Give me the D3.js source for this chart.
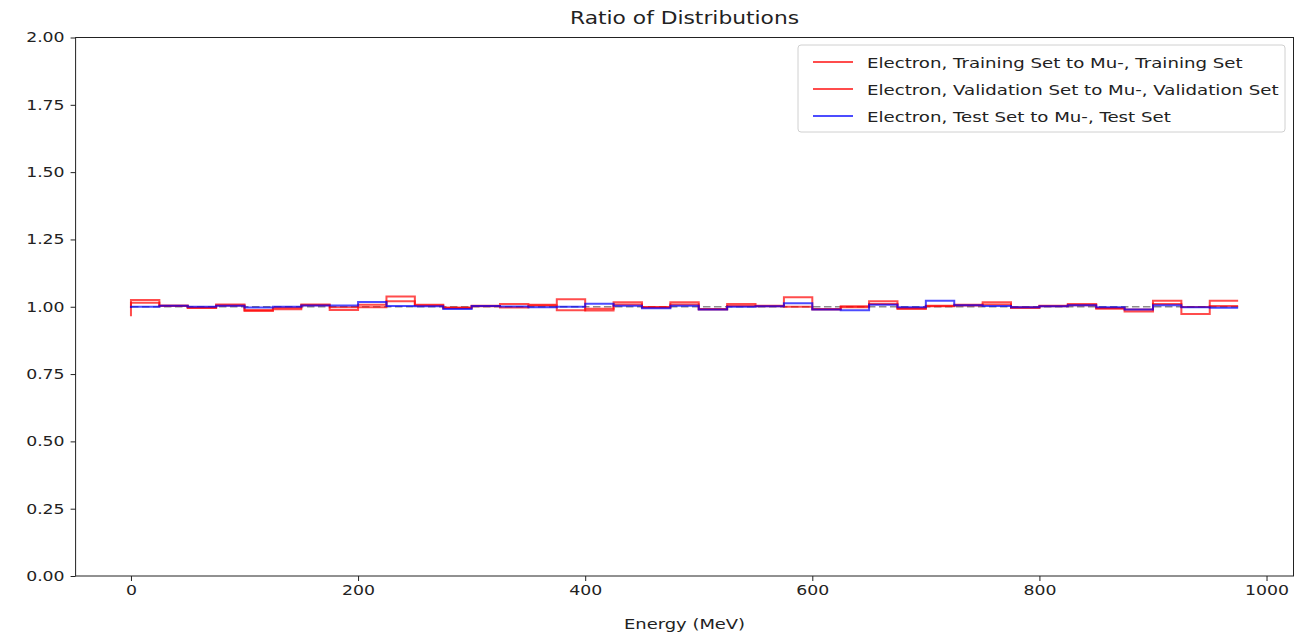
<!DOCTYPE html>
<meta charset="utf-8">
<script src="https://d3js.org/d3.v7.min.js"></script>
<style>
  body { margin: 0; background: #fff; }
  text { font-family: "DejaVu Sans", sans-serif; fill: #222; }
</style>
<div id="chart"></div>
<script>

// Bin edges (MeV), one per point, step drawn "pre" like matplotlib
var energy = d3.range(0, 1000, 25);

var trainRatio = [0.965, 1.025, 1.005, 0.995, 1.008, 0.984, 0.991, 1.008, 0.988, 0.998,
                  1.038, 1.007, 0.997, 1.004, 1.010, 1.007, 1.028, 0.986, 1.017, 0.997,
                  1.017, 0.990, 1.010, 1.002, 1.035, 0.990, 0.998, 1.020, 0.992, 1.002,
                  1.007, 1.017, 0.995, 1.002, 1.010, 0.995, 0.982, 1.022, 0.973, 1.022];
var valRatio   = [0.995, 1.015, 1.003, 0.997, 1.005, 0.988, 0.996, 1.006, 0.998, 1.007,
                  1.020, 1.005, 0.995, 1.002, 0.997, 1.005, 0.987, 0.993, 1.008, 0.999,
                  1.008, 0.992, 1.003, 1.004, 1.000, 0.992, 1.002, 1.010, 0.995, 1.004,
                  1.005, 1.008, 0.998, 1.004, 1.006, 0.993, 0.990, 1.010, 0.999, 1.003];
var testRatio  = [0.995, 1.000, 1.004, 1.000, 1.004, 0.997, 1.000, 1.005, 1.005, 1.018,
                  1.003, 1.002, 0.992, 1.003, 1.001, 0.998, 1.000, 1.011, 1.004, 0.994,
                  1.004, 0.990, 1.000, 1.002, 1.013, 0.990, 0.987, 1.007, 0.998, 1.022,
                  1.006, 1.003, 0.998, 1.002, 1.006, 0.998, 0.990, 1.006, 0.998, 0.996];
var refRatio = 1.0;

var seriesNames = ["Electron, Training Set to Mu-, Training Set",
                   "Electron, Validation Set to Mu-, Validation Set",
                   "Electron, Test Set to Mu-, Test Set"];
var seriesColors = ["rgba(255,0,0,0.7)", "rgba(255,0,0,0.7)", "rgba(0,0,255,0.7)"];
var seriesValues = [trainRatio, valRatio, testRatio];

var xTicks = [0, 200, 400, 600, 800, 1000];
var yTicks = [0, 0.25, 0.5, 0.75, 1.0, 1.25, 1.5, 1.75, 2.0];

var W = 1294, H = 634;
var m = {left: 75.6, right: 1293.5, top: 37.5, bottom: 576};
var stretch = 1.28;   // el texto original sale ensanchado

var svg = d3.select("#chart").append("svg")
    .attr("width", W)
    .attr("height", H);

var x = d3.scaleLinear().domain([-48.75, 1023.75]).range([m.left, m.right]);
var y = d3.scaleLinear().domain([0, 2]).range([m.bottom, m.top]);

// linea de referencia en 1 (solo en el rango de datos, por debajo)
svg.append("line")
    .attr("x1", x(energy[0])).attr("x2", x(energy[energy.length - 1]))
    .attr("y1", y(refRatio)).attr("y2", y(refRatio))
    .attr("stroke", "rgba(0,0,0,0.45)")
    .attr("stroke-width", 1.5)
    .attr("stroke-dasharray", "7.5,3.5");

// lineas
var line = d3.line()
    .x(function(d) { return x(d[0]); })
    .y(function(d) { return y(d[1]); })
    .curve(d3.curveStepBefore);

seriesValues.forEach(function(vals, k) {
  svg.append("path")
    .datum(energy.map(function(e, i) { return [e, vals[i]]; }))
    .attr("d", line)
    .attr("fill", "none")
    .attr("stroke", seriesColors[k])
    .attr("stroke-width", 2);
});

// ejes
var xAxis = svg.append("g")
    .attr("transform", "translate(0," + m.bottom + ")")
    .call(d3.axisBottom(x).tickValues(xTicks).tickSize(5).tickPadding(4).tickFormat(d3.format("d")));
var yAxis = svg.append("g")
    .attr("transform", "translate(" + m.left + ",0)")
    .call(d3.axisLeft(y).tickValues(yTicks).tickSize(5).tickPadding(6).tickFormat(d3.format(".2f")));
[xAxis, yAxis].forEach(function(a) {
  a.attr("font-size", null).attr("font-family", null);
  a.selectAll("text").style("font-size", "13.5px").attr("fill", "#222");
  a.selectAll("line").attr("stroke", "#222");
  a.select(".domain").remove();
});

// marco
svg.append("rect")
    .attr("x", m.left).attr("y", m.top)
    .attr("width", m.right - m.left).attr("height", m.bottom - m.top)
    .attr("fill", "none")
    .attr("stroke", "#222")
    .attr("stroke-width", 1);

// titulo y etiqueta
svg.append("text")
    .attr("x", (m.left + m.right) / 2).attr("y", 24)
    .attr("text-anchor", "middle")
    .style("font-size", "17px")
    .text("Ratio of Distributions");
svg.append("text")
    .attr("x", (m.left + m.right) / 2).attr("y", 629)
    .attr("text-anchor", "middle")
    .style("font-size", "14px")
    .text("Energy (MeV)");

// leyenda
var lg = svg.append("g");
lg.append("rect")
    .attr("x", 798).attr("y", 45)
    .attr("width", 487).attr("height", 87)
    .attr("rx", 3)
    .attr("fill", "rgba(255,255,255,0.8)")
    .attr("stroke", "#d0d0d0");
seriesNames.forEach(function(name, k) {
  var yy = 62 + k * 27;
  lg.append("line")
    .attr("x1", 813).attr("x2", 853)
    .attr("y1", yy).attr("y2", yy)
    .attr("stroke", seriesColors[k])
    .attr("stroke-width", 2);
  lg.append("text")
    .attr("x", 867).attr("y", yy + 5.5)
    .style("font-size", "14.2px")
    .text(name);
});

// ensanchar todos los textos
svg.selectAll("text").each(function() {
  var len = this.getComputedTextLength();
  d3.select(this)
    .attr("textLength", len * stretch)
    .attr("lengthAdjust", "spacingAndGlyphs");
});

</script>
